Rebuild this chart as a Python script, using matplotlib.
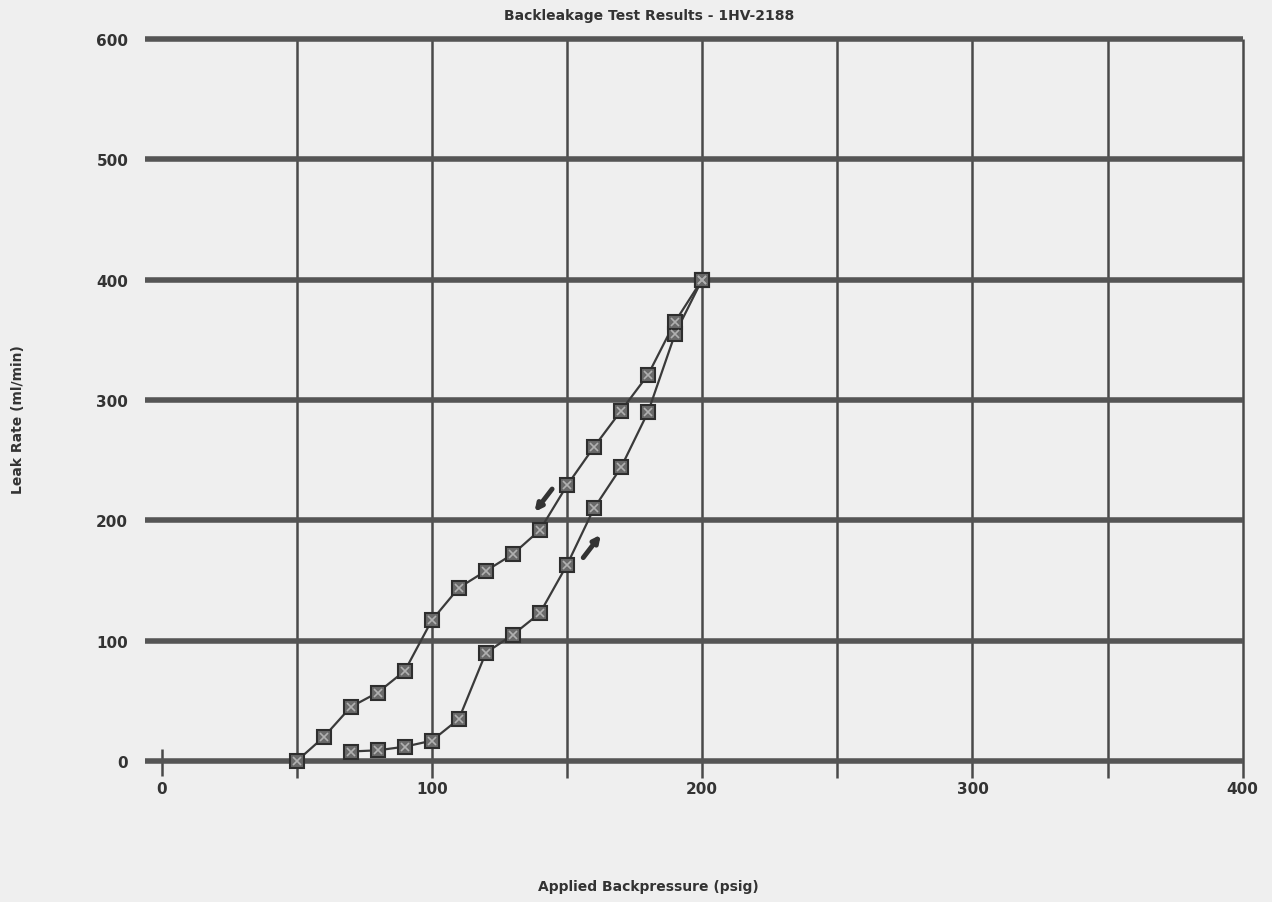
import matplotlib
matplotlib.use("Agg")
import matplotlib.pyplot as plt

# Data
x_increasing = [70, 80, 90, 100, 110, 120, 130, 140, 150, 160, 170, 180, 190, 200]
y_increasing = [8, 9, 12, 17, 35, 90, 105, 123, 163, 210, 244, 290, 355, 400]

x_decreasing = [200, 190, 180, 170, 160, 150, 140, 130, 120, 110, 100, 90, 80, 70, 60, 50]
y_decreasing = [400, 365, 321, 291, 261, 229, 192, 172, 158, 144, 117, 75, 57, 45, 20, 0]

x_ticks = [0, 100, 200, 300, 400]
x_grid = [50, 100, 150, 200, 250, 300, 350, 400]
y_ticks = [0, 100, 200, 300, 400, 500, 600]

# direction arrows (tail, head) in data units
arrow_down = ((144.5, 226), (138, 207))
arrow_up = ((156, 169), (162.5, 188))

title = "Backleakage Test Results - 1HV-2188"
xlabel = "Applied Backpressure (psig)"
ylabel = "Leak Rate (ml/min)"

bg = "#efefef"
ink = "#4a4a4a"

fig = plt.figure(figsize=(12.72, 9.03), dpi=100, facecolor=bg)
ax = fig.add_axes([0.127, 0.156, 0.850, 0.800], facecolor=bg)

ax.set_xlim(0, 400)
ax.set_ylim(0, 600)

ax.vlines(x_grid, -14, 600, color=ink, lw=1.8, zorder=1, clip_on=False)
ax.vlines([0], -12, 10, color=ink, lw=1.8, zorder=1, clip_on=False)
ax.hlines(y_ticks, -6, 400, color="#555555", lw=4.0, zorder=1, clip_on=False)

for s in ax.spines.values():
    s.set_visible(False)

ax.set_xticks(x_ticks)
ax.set_xticklabels([str(v) for v in x_ticks])
ax.set_yticks(y_ticks)
ax.set_yticklabels([str(v) for v in y_ticks])
ax.tick_params(axis="x", length=0, labelsize=11, pad=14, labelcolor="#333333")
ax.tick_params(axis="y", length=0, labelsize=11, pad=24, labelcolor="#333333")
for lab in ax.get_xticklabels() + ax.get_yticklabels():
    lab.set_fontweight("bold")

for xs, ys in ((x_increasing, y_increasing), (x_decreasing, y_decreasing)):
    ax.plot(xs, ys, color="#3a3a3a", lw=1.6, zorder=3, clip_on=False)
    ax.plot(xs, ys, linestyle="none", marker="s", markersize=10,
            markerfacecolor="#6a6a6a", markeredgecolor="#2e2e2e",
            markeredgewidth=1.5, zorder=4, clip_on=False)
    ax.plot(xs, ys, linestyle="none", marker="x", markersize=6,
            markeredgecolor="#b0b0b0", markeredgewidth=1.2, zorder=5, clip_on=False)

for (tail, head) in (arrow_down, arrow_up):
    ax.annotate("", xy=head, xytext=tail,
                arrowprops=dict(arrowstyle="-|>", color="#333333", lw=3.5,
                                mutation_scale=10, shrinkA=0, shrinkB=0),
                zorder=6)

fig.text(0.51, 0.982, title, ha="center", va="center", fontsize=10,
         fontweight="bold", color="#333333")
fig.text(0.51, 0.018, xlabel, ha="center", va="center", fontsize=10,
         fontweight="bold", color="#333333")
fig.text(0.014, 0.535, ylabel, ha="center", va="center", fontsize=10,
         fontweight="bold", color="#333333", rotation=90)

fig.savefig("out.png", dpi=100, facecolor=bg)
